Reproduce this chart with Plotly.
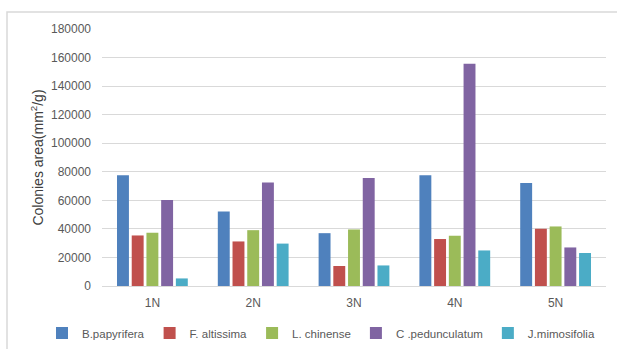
import plotly.graph_objects as go

categories = ["1N", "2N", "3N", "4N", "5N"]
series_names = ["B.papyrifera", "F. altissima", "L. chinense", "C .pedunculatum", "J.mimosifolia"]
b_papyrifera = [77500, 52200, 37000, 77600, 72200]
f_altissima = [35400, 31200, 14000, 32900, 40100]
l_chinense = [37300, 39100, 39600, 35200, 41700]
c_pedunculatum = [60300, 72500, 75700, 155700, 27000]
j_mimosifolia = [5300, 29700, 14400, 24900, 23100]
colors = ["#4F81BD", "#C0504D", "#9BBB59", "#8064A2", "#4BACC6"]
y_ticks = [0, 20000, 40000, 60000, 80000, 100000, 120000, 140000, 160000, 180000]
y_tick_labels = [str(v) for v in y_ticks]

values = [b_papyrifera, f_altissima, l_chinense, c_pedunculatum, j_mimosifolia]

fig = go.Figure()
for name, vals, col in zip(series_names, values, colors):
    fig.add_trace(go.Bar(x=categories, y=vals, name=name, marker=dict(color=col, line=dict(width=0))))

W, H = 617, 349
L, R, T, B = 102, 11, 29, 63
pw, ph = W - L - R, H - T - B

def px2x(px):
    return (px - L) / pw

def py2y(py):
    return (H - B - py) / ph

fig.update_layout(
    width=W, height=H,
    margin=dict(l=L, r=R, t=T, b=B, autoexpand=False),
    paper_bgcolor="white", plot_bgcolor="white",
    barmode="group", bargap=0.27, bargroupgap=0.19,
    font=dict(family="Liberation Sans, Arial, sans-serif", size=12, color="#595959"),
    showlegend=True,
    legend=dict(orientation="h", x=px2x(42), xanchor="left", y=py2y(333), yanchor="middle",
                font=dict(size=11.5, color="#595959"), itemwidth=30, tracegroupgap=0,
                bgcolor="rgba(0,0,0,0)"),
    xaxis=dict(showgrid=False, showline=True, linecolor="#D9D9D9", linewidth=1,
               ticks="", ticklabelstandoff=6, tickfont=dict(size=12, color="#595959")),
    yaxis=dict(range=[0, 180000], tickvals=y_ticks, ticktext=y_tick_labels, showgrid=True,
               gridcolor="#D9D9D9", gridwidth=1, zeroline=False, showline=False, ticks="",
               ticklabelstandoff=10,
               tickfont=dict(size=12, color="#595959"),
               title=dict(text="Colonies area(mm<sup>2</sup>/g)", standoff=4,
                          font=dict(size=14, color="#404040"))),
    shapes=[dict(type="rect", xref="paper", yref="paper",
                 x0=px2x(7), x1=px2x(640), y0=py2y(370), y1=py2y(12),
                 line=dict(color="#D9D9D9", width=1.5), fillcolor="rgba(0,0,0,0)", layer="below")],
)

fig.write_html("out.html")
